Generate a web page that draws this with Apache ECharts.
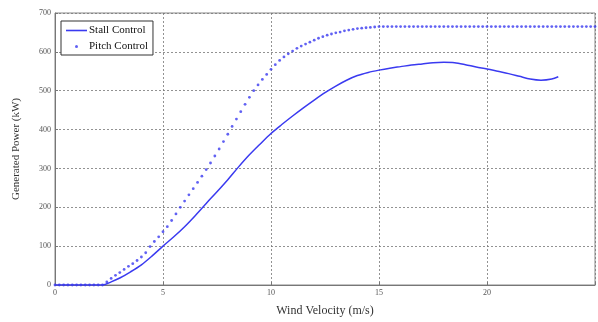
<!DOCTYPE html>
<html>
<head>
<meta charset="utf-8">
<script src="https://cdn.jsdelivr.net/npm/echarts@6/dist/echarts.min.js"></script>
<style>html,body{margin:0;padding:0;background:#fff;}#c{width:598px;height:322px;}</style>
</head>
<body>
<div id="c"></div>
<script>
// Stall control: wind speed (m/s) and generated power (kW)
var stallSpeed = [0, 0.5, 1, 1.5, 2, 2.2, 2.6, 3, 3.5, 4, 4.5, 5, 5.5, 6, 6.5, 7, 7.5, 8, 8.5, 9, 9.5, 10, 10.5, 11, 11.5, 12, 12.5, 13, 13.5, 14, 14.5, 15, 15.5, 16, 16.5, 17, 17.5, 18, 18.5, 19, 19.5, 20, 20.5, 21, 21.5, 22, 22.5, 23, 23.3];
var stallPower = [0, 0, 0, 0, 0, 0, 8, 18, 34, 52, 75, 100, 124, 150, 179, 210, 240, 271, 304, 335, 363, 390, 413, 435, 456, 476, 495, 512, 527, 539, 547, 553, 558, 562, 566, 569, 572, 573, 572, 567, 561, 556, 550, 544, 537, 530, 527, 530, 536];

// Pitch control: wind speed (m/s) and generated power (kW)
var pitchSpeed = [0, 0.2, 0.4, 0.6, 0.8, 1, 1.2, 1.4, 1.6, 1.8, 2, 2.2, 2.4, 2.6, 2.8, 3, 3.2, 3.4, 3.6, 3.8, 4, 4.2, 4.4, 4.6, 4.8, 5, 5.2, 5.4, 5.6, 5.8, 6, 6.2, 6.4, 6.6, 6.8, 7, 7.2, 7.4, 7.6, 7.8, 8, 8.2, 8.4, 8.6, 8.8, 9, 9.2, 9.4, 9.6, 9.8, 10, 10.2, 10.4, 10.6, 10.8, 11, 11.2, 11.4, 11.6, 11.8, 12, 12.2, 12.4, 12.6, 12.8, 13, 13.2, 13.4, 13.6, 13.8, 14, 14.2, 14.4, 14.6, 14.8, 15, 15.2, 15.4, 15.6, 15.8, 16, 16.2, 16.4, 16.6, 16.8, 17, 17.2, 17.4, 17.6, 17.8, 18, 18.2, 18.4, 18.6, 18.8, 19, 19.2, 19.4, 19.6, 19.8, 20, 20.2, 20.4, 20.6, 20.8, 21, 21.2, 21.4, 21.6, 21.8, 22, 22.2, 22.4, 22.6, 22.8, 23, 23.2, 23.4, 23.6, 23.8, 24, 24.2, 24.4, 24.6, 24.8, 25];
var pitchPower = [0, 0, 0, 0, 0, 0, 0, 0, 0, 0, 0, 0, 8, 17, 25, 32, 40, 48, 55, 63, 72, 83, 99, 112, 124, 137, 150, 166, 183, 200, 216, 232, 248, 264, 280, 297, 314, 332, 350, 369, 388, 408, 427, 446, 465, 483, 500, 515, 529, 542, 555, 567, 578, 587, 595, 602, 609, 615, 620, 625, 630, 635, 639, 643, 646, 649, 651, 654, 656, 658, 660, 661, 662, 663, 664, 665, 665, 665, 665, 665, 665, 665, 665, 665, 665, 665, 665, 665, 665, 665, 665, 665, 665, 665, 665, 665, 665, 665, 665, 665, 665, 665, 665, 665, 665, 665, 665, 665, 665, 665, 665, 665, 665, 665, 665, 665, 665, 665, 665, 665, 665, 665, 665, 665, 665, 665];

var xTicks = [0, 5, 10, 15, 20, 25];
var yTicks = [0, 100, 200, 300, 400, 500, 600, 700];
var seriesNames = ['Stall Control', 'Pitch Control'];

function pairs(xs, ys) { return xs.map(function (x, i) { return [x, ys[i]]; }); }

var serif = 'Liberation Serif, Times New Roman, serif';
var blue = '#3a3af0';
var chart = echarts.init(document.getElementById('c'), null, { renderer: 'canvas' });
chart.setOption({
  animation: false,
  backgroundColor: '#ffffff',
  grid: { left: 55, right: -2, top: 13, bottom: 30, show: true, borderColor: '#888', borderWidth: 1, containLabel: false },
  legend: {
    left: 61, top: 21, orient: 'vertical',
    data: [
      { name: seriesNames[0], icon: 'path://M0,0L21,0L21,1.6L0,1.6Z' },
      { name: seriesNames[1], icon: 'circle' }
    ],
    itemWidth: 21, itemHeight: 3, itemGap: 5,
    padding: [4, 5, 3, 5],
    borderColor: '#333', borderWidth: 1, backgroundColor: '#fff',
    textStyle: { fontFamily: serif, fontSize: 11, color: '#111', padding: [0, 0, 0, -3] }
  },
  xAxis: {
    type: 'value', min: xTicks[0], max: xTicks[xTicks.length - 1], interval: 5,
    name: 'Wind Velocity (m/s)', nameLocation: 'middle', nameGap: 20,
    nameTextStyle: { fontFamily: serif, fontSize: 12, color: '#333' },
    axisLine: { lineStyle: { color: '#777', width: 1 } },
    axisTick: { inside: true, length: 3, lineStyle: { color: '#777' } },
    axisLabel: { fontFamily: serif, fontSize: 8, color: '#555', margin: 4,
      formatter: function (v) { return xTicks.indexOf(v) >= 0 && v < 25 ? String(v) : ''; } },
    splitLine: { show: true, lineStyle: { color: '#777', type: [2, 2], width: 0.8 } }
  },
  yAxis: {
    type: 'value', min: yTicks[0], max: yTicks[yTicks.length - 1], interval: 100,
    name: 'Generated Power (kW)', nameLocation: 'middle', nameGap: 33,
    nameTextStyle: { fontFamily: serif, fontSize: 11, color: '#333' },
    axisLine: { show: true, lineStyle: { color: '#777', width: 1 } },
    axisTick: { show: true, inside: true, length: 3, lineStyle: { color: '#777' } },
    axisLabel: { fontFamily: serif, fontSize: 8, color: '#555', margin: 4 },
    splitLine: { show: true, lineStyle: { color: '#777', type: [2, 2], width: 0.8 } }
  },
  series: [
    {
      name: seriesNames[0], type: 'line', data: pairs(stallSpeed, stallPower),
      smooth: 0.3, showSymbol: false, symbol: 'none',
      lineStyle: { color: blue, width: 1.5 }, itemStyle: { color: blue }, z: 3
    },
    {
      name: seriesNames[1], type: 'scatter', data: pairs(pitchSpeed, pitchPower),
      symbol: 'circle', symbolSize: 2.8,
      itemStyle: { color: blue }, z: 4
    }
  ]
});
</script>
</body>
</html>
